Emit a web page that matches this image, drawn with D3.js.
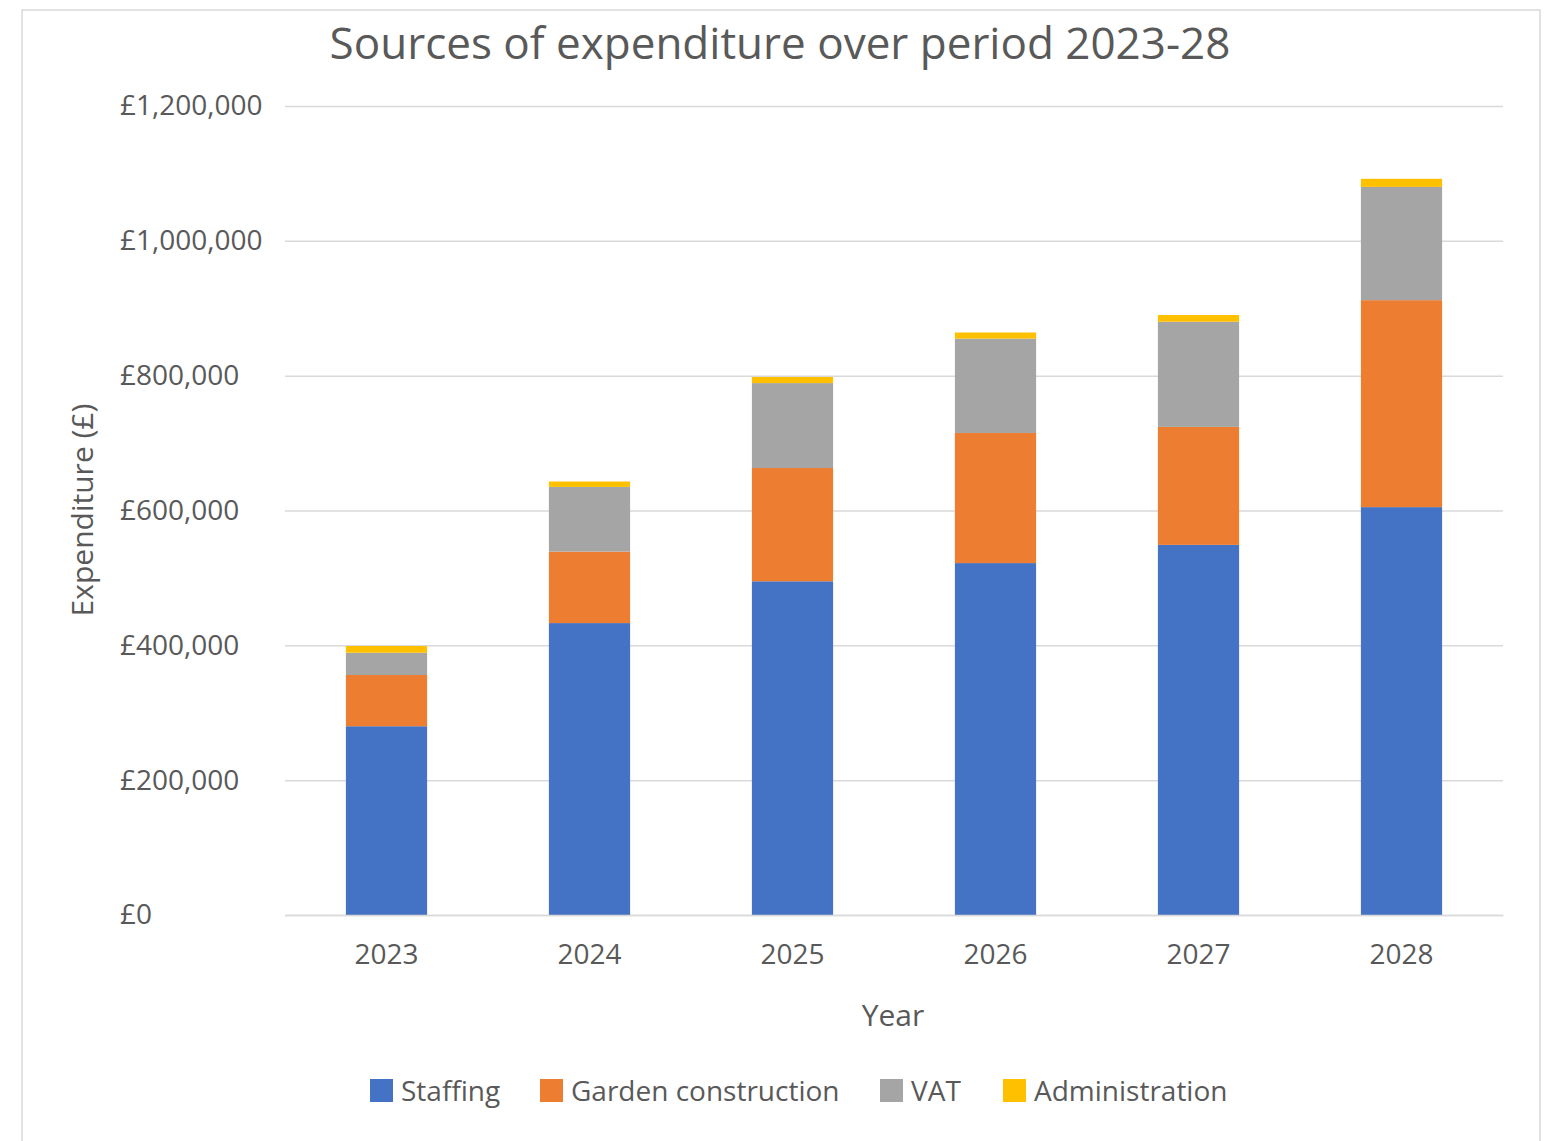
<!DOCTYPE html>
<html>
<head>
<meta charset="utf-8">
<script src="https://cdn.jsdelivr.net/npm/d3@7"></script>
<style>
  html, body { margin: 0; padding: 0; background: #ffffff; }
  svg { display: block; }
  text { font-family: "Open Sans", "Liberation Sans", sans-serif; fill: #595959; }
</style>
</head>
<body>
<svg id="chart" width="1555" height="1141"></svg>
<script>
// Expenditure by year, stacked by source (£)
const years = ["2023", "2024", "2025", "2026", "2027", "2028"];
const seriesNames = ["Staffing", "Garden construction", "VAT", "Administration"];
const staffing = [280000, 433000, 495000, 522000, 549000, 605000];
const gardenConstruction = [76000, 106000, 168000, 193000, 175000, 307000];
const vat = [33000, 96000, 126000, 140000, 156000, 168000];
const administration = [10000, 8000, 9000, 9000, 10000, 12000];
const yTicks = [0, 200000, 400000, 600000, 800000, 1000000, 1200000];
const colors = ["#4472c4", "#ed7d31", "#a5a5a5", "#ffc000"];

const rows = years.map((y, i) => ({
  year: y,
  "Staffing": staffing[i],
  "Garden construction": gardenConstruction[i],
  "VAT": vat[i],
  "Administration": administration[i]
}));

const svg = d3.select("#chart");

// outer chart frame
svg.append("rect")
  .attr("x", 22).attr("y", 10)
  .attr("width", 1518).attr("height", 1160)
  .attr("fill", "#ffffff")
  .attr("stroke", "#d9d9d9").attr("stroke-width", 1.5);

const plot = { left: 285, right: 1503, top: 106, bottom: 915 };

const x = d3.scaleBand()
  .domain(years)
  .range([plot.left, plot.right])
  .paddingInner(0.6)
  .paddingOuter(0.3);

const y = d3.scaleLinear()
  .domain([0, 1200000])
  .range([plot.bottom, plot.top]);

const fmt = v => "£" + d3.format(",")(v);

// horizontal gridlines + y labels (labels left-aligned in a column)
const yAxis = d3.axisLeft(y)
  .tickValues(yTicks)
  .tickFormat(fmt)
  .tickSize(-(plot.right - plot.left));

const gy = svg.append("g")
  .attr("transform", `translate(${plot.left},0)`)
  .call(yAxis);
gy.select(".domain").remove();
gy.selectAll(".tick line").attr("stroke", "#d9d9d9").attr("stroke-width", 1.5);
gy.selectAll(".tick text")
  .attr("x", 120 - plot.left)
  .attr("text-anchor", "start")
  .attr("font-size", 28)
  .attr("fill", "#595959")
  .style("font-family", "'Open Sans', sans-serif");

// stacked bars
const stack = d3.stack().keys(seriesNames);
const layers = stack(rows);

svg.append("g")
  .selectAll("g")
  .data(layers)
  .join("g")
  .attr("fill", (d, i) => colors[i])
  .selectAll("rect")
  .data(d => d)
  .join("rect")
  .attr("x", d => x(d.data.year))
  .attr("width", x.bandwidth())
  .attr("y", d => y(d[1]))
  .attr("height", d => y(d[0]) - y(d[1]));

// x axis (baseline + year labels)
const xAxis = d3.axisBottom(x).tickSize(0).tickPadding(29);
const gx = svg.append("g")
  .attr("transform", `translate(0,${plot.bottom})`)
  .call(xAxis);
gx.select(".domain").attr("stroke", "#d9d9d9").attr("stroke-width", 1.5);
gx.selectAll(".tick text")
  .attr("font-size", 28)
  .attr("fill", "#595959")
  .style("font-family", "'Open Sans', sans-serif");

// title
svg.append("text")
  .attr("x", 780).attr("y", 59)
  .attr("text-anchor", "middle")
  .attr("font-size", 44)
  .text("Sources of expenditure over period 2023-28");

// axis titles
svg.append("text")
  .attr("x", 893).attr("y", 1026)
  .attr("text-anchor", "middle")
  .attr("font-size", 30)
  .text("Year");

svg.append("text")
  .attr("transform", "translate(93,510) rotate(-90)")
  .attr("text-anchor", "middle")
  .attr("font-size", 30)
  .text("Expenditure (£)");

// legend
const legendX = [370, 540, 880, 1003];
const legend = svg.append("g")
  .selectAll("g")
  .data(seriesNames)
  .join("g")
  .attr("transform", (d, i) => `translate(${legendX[i]},1079)`);
legend.append("rect")
  .attr("width", 23).attr("height", 23)
  .attr("fill", (d, i) => colors[i]);
legend.append("text")
  .attr("x", 31).attr("y", 22)
  .attr("font-size", 28)
  .text(d => d);
</script>
</body>
</html>
